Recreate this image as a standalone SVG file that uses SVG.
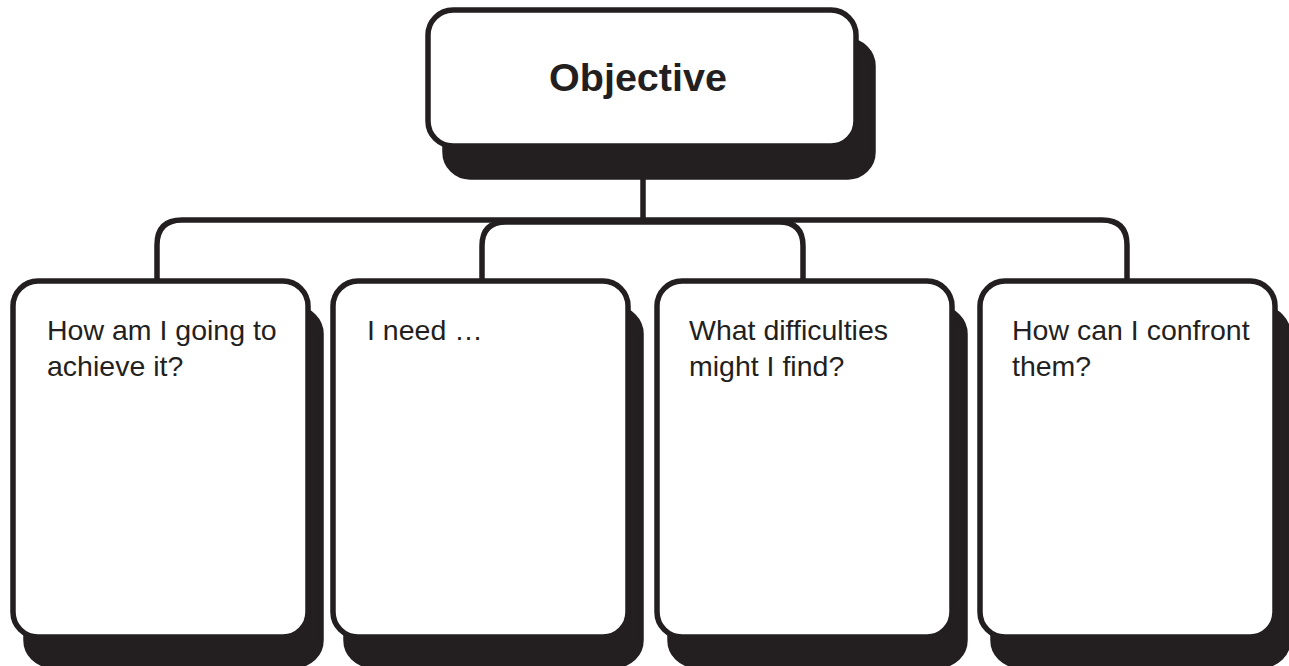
<svg xmlns="http://www.w3.org/2000/svg" width="1289" height="666" viewBox="0 0 1289 666">
<style>
.box{fill:#ffffff;stroke:#231f20;stroke-width:5.5}
.shadow{fill:#231f20;stroke:#231f20;stroke-width:5.5}
.conn{fill:none;stroke:#231f20;stroke-width:5.5}
.title{font-family:"Liberation Sans",Arial,sans-serif;font-weight:bold;font-size:39.5px;fill:#231f20}
.lbl{font-family:"Liberation Sans",Arial,sans-serif;font-size:28.5px;fill:#231f20}
</style>
<rect width="1289" height="666" fill="#ffffff"/>
<g id="connectors">
<path class="conn" d="M643,170 V220"/>
<path class="conn" d="M157,282 V245 Q157,220 182,220 H1102 Q1127,220 1127,245 V282"/>
<path class="conn" d="M482,282 V246 Q482,222 506,222 H779 Q803,222 803,246 V282"/>
</g>
<g id="objective">
<rect class="shadow" x="445" y="41" width="428" height="136" rx="25"/>
<rect class="box" x="428" y="10" width="428" height="136" rx="25"/>
<text class="title" x="638" y="91" text-anchor="middle">Objective</text>
</g>
<g id="how-achieve">
<rect class="shadow" x="26" y="309" width="295" height="356" rx="25"/>
<rect class="box" x="13" y="281" width="295" height="356" rx="25"/>
<text class="lbl" x="47" y="340">How am I going to</text>
<text class="lbl" x="47" y="376">achieve it?</text>
</g>
<g id="i-need">
<rect class="shadow" x="346" y="309" width="295" height="356" rx="25"/>
<rect class="box" x="333" y="281" width="295" height="356" rx="25"/>
<text class="lbl" x="367" y="340">I need …</text>
</g>
<g id="difficulties">
<rect class="shadow" x="670" y="309" width="295" height="356" rx="25"/>
<rect class="box" x="657" y="281" width="295" height="356" rx="25"/>
<text class="lbl" x="689" y="340">What difficulties</text>
<text class="lbl" x="689" y="376">might I find?</text>
</g>
<g id="confront">
<rect class="shadow" x="993" y="309" width="295" height="356" rx="25"/>
<rect class="box" x="980" y="281" width="295" height="356" rx="25"/>
<text class="lbl" x="1012" y="340">How can I confront</text>
<text class="lbl" x="1012" y="376">them?</text>
</g>
</svg>
